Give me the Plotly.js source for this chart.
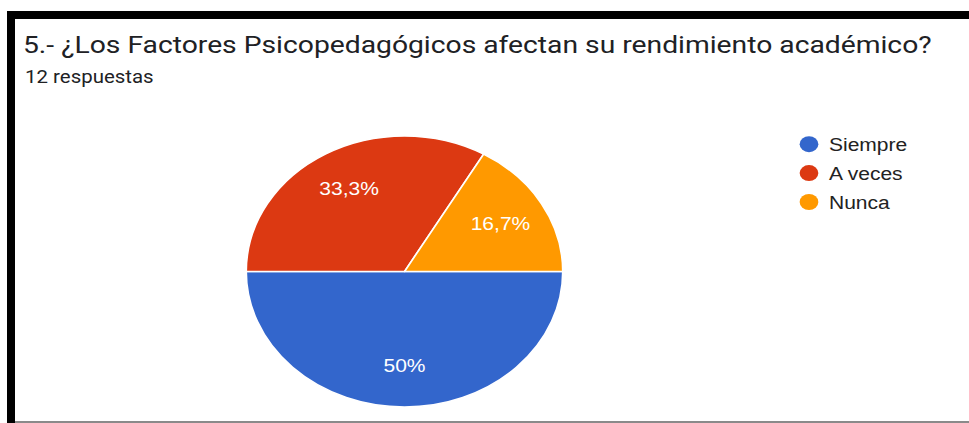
<!DOCTYPE html>
<html>
<head>
<meta charset="utf-8">
<script src="https://cdn.plot.ly/plotly-3.0.1.min.js"></script>
<style>
  html, body { margin: 0; padding: 0; background: #fff; }
  #chart { width: 969px; height: 423px; }
</style>
</head>
<body>
<div id="chart"></div>
<script>
// ---- data ----
const titleText = "5.- ¿Los Factores Psicopedagógicos afectan su rendimiento académico?";
const subtitleText = "12 respuestas";
const categories = ["Siempre", "A veces", "Nunca"];
const counts = [6, 4, 2];
const colors = ["#3366CC", "#DC3912", "#FF9900"];

// ---- layout constants (pixels) ----
const W = 969, H = 423;
const pieCx = 404.5, pieCy = 271.5, pieR = 135.5, pieRx = 158.3;
const stretch = pieRx / pieR;        // the source picture is stretched horizontally
const startRotation = 90;            // first slice starts at 3 o'clock
const labelFrac = 0.7;               // radial position of the percentage labels

const pieTrace = {
  type: "pie",
  labels: categories,
  values: counts,
  sort: false,
  direction: "clockwise",
  rotation: startRotation,
  marker: { colors: colors, line: { color: "#ffffff", width: 1.5 } },
  textinfo: "percent",
  textposition: "inside",
  insidetextorientation: "horizontal",
  textfont: { family: "Liberation Sans, Arial, sans-serif", size: 18, color: "#ffffff" },
  showlegend: false,
  hoverinfo: "none",
  domain: {
    x: [(pieCx - pieR) / W, (pieCx + pieR) / W],
    y: [(H - pieCy - pieR) / H, (H - pieCy + pieR) / H]
  }
};

const legendTraces = categories.map((name, i) => ({
  type: "scatter",
  mode: "markers",
  x: [null],
  y: [null],
  name: name,
  legendgroup: "g" + i,
  marker: { color: colors[i], size: 16, symbol: "circle" },
  showlegend: true,
  hoverinfo: "none"
}));

const layout = {
  width: W,
  height: H,
  margin: { l: 0, r: 0, t: 0, b: 0, pad: 0 },
  paper_bgcolor: "#ffffff",
  plot_bgcolor: "#ffffff",
  separators: ",.",
  title: {
    text: titleText,
    font: { family: "Roboto, sans-serif", size: 24.2, color: "#202124" },
    x: 23 / W,
    xanchor: "left",
    xref: "paper",
    y: 1 - 45 / H,
    yanchor: "middle",
    yref: "container"
  },
  annotations: [{
    text: subtitleText,
    xref: "paper", yref: "paper",
    x: 23 / W, y: 1 - 77 / H,
    xanchor: "left", yanchor: "middle",
    showarrow: false,
    font: { family: "Roboto, sans-serif", size: 17.5, color: "#202124" }
  }],
  xaxis: { visible: false, domain: [0.99, 1] },
  yaxis: { visible: false, domain: [0.99, 1] },
  legend: {
    x: 789 / W, xanchor: "left",
    y: 1 - 126 / H, yanchor: "top",
    font: { family: "Liberation Sans, Arial, sans-serif", size: 18, color: "#222222" },
    tracegroupgap: 2.5,
    traceorder: "grouped",
    bgcolor: "rgba(0,0,0,0)"
  },
  shapes: [
    { type: "rect", xref: "paper", yref: "paper", x0: 7 / W, x1: 1, y0: 1 - 19 / H, y1: 1 - 11 / H,
      fillcolor: "#000000", line: { width: 0 }, layer: "above" },
    { type: "rect", xref: "paper", yref: "paper", x0: 7 / W, x1: 15 / W, y0: 0, y1: 1 - 11 / H,
      fillcolor: "#000000", line: { width: 0 }, layer: "above" },
    { type: "rect", xref: "paper", yref: "paper", x0: 15 / W, x1: 1, y0: 0, y1: 2 / H,
      fillcolor: "#8a8a8a", line: { width: 0 }, layer: "above" }
  ]
};

// horizontal stretch of an element about a local x anchor ("left" or "center")
function stretchEl(el, anchor, extra) {
  const b = el.getBBox();
  const ax = anchor === "left" ? b.x : b.x + b.width / 2;
  const T = el.getAttribute("transform") || "";
  el.setAttribute("transform",
    (extra || "") + " " + T + " translate(" + ax + ",0) scale(" + stretch + ",1) translate(" + (-ax) + ",0)");
}

Plotly.newPlot("chart", [pieTrace].concat(legendTraces), layout, { staticPlot: true, displayModeBar: false })
  .then(function (gd) {
    // stretch the pie horizontally into an ellipse (only the slice shapes)
    const paths = gd.querySelectorAll(".pielayer path.surface");
    let minX = Infinity, maxX = -Infinity, minY = Infinity, maxY = -Infinity;
    paths.forEach(p => {
      const b = p.getBBox();
      minX = Math.min(minX, b.x); maxX = Math.max(maxX, b.x + b.width);
      minY = Math.min(minY, b.y); maxY = Math.max(maxY, b.y + b.height);
    });
    const lcx = (minX + maxX) / 2, lcy = (minY + maxY) / 2;
    const ry = (maxY - minY) / 2, rx = ry * stretch;
    paths.forEach(p => {
      p.setAttribute("transform", "translate(" + lcx + ",0) scale(" + stretch + ",1) translate(" + (-lcx) + ",0)");
    });

    // place percentage labels at the middle angle of each slice on the ellipse
    const total = counts.reduce((a, b) => a + b, 0);
    let cum = 0;
    const mids = counts.map(v => { const m = startRotation + 360 * (cum + v / 2) / total; cum += v; return m * Math.PI / 180; });
    gd.querySelectorAll(".pielayer g.slicetext").forEach((g, i) => {
      const b = g.getBBox();
      const curX = b.x + b.width / 2, curY = b.y + b.height / 2;
      const tx = lcx + labelFrac * rx * Math.sin(mids[i]);
      const ty = lcy - labelFrac * ry * Math.cos(mids[i]);
      g.setAttribute("transform",
        "translate(" + (tx - curX) + "," + (ty - curY) + ") translate(" + curX + ",0) scale(" + stretch + ",1) translate(" + (-curX) + ",0)");
    });

    // stretch texts like the source picture
    const t = gd.querySelector(".gtitle"); if (t) stretchEl(t, "left");
    gd.querySelectorAll(".annotation-text").forEach(el => stretchEl(el, "left"));
    gd.querySelectorAll(".legend [clip-path]").forEach(el => el.removeAttribute("clip-path"));
    gd.querySelectorAll(".legend .legendtext").forEach(el => stretchEl(el, "left"));
    gd.querySelectorAll(".legend .legendpoints path").forEach(el => stretchEl(el, "center"));
  });
</script>
</body>
</html>
